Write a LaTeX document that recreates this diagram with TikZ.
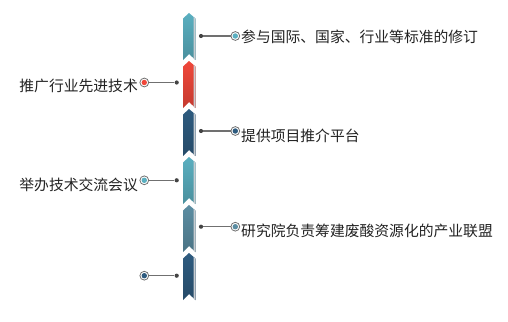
\documentclass[tikz,border=0pt]{standalone}
\usepackage{fontspec}
\setmainfont{Noto Sans CJK SC}
\definecolor{cteal}{HTML}{5AAFC0}
\definecolor{cred}{HTML}{F0473A}
\definecolor{cdark}{HTML}{2E5B7F}
\definecolor{cgblue}{HTML}{5B8DA2}
\definecolor{cline}{HTML}{707070}
\definecolor{cdot}{HTML}{444444}
\definecolor{ctext}{HTML}{222222}
\definecolor{cstripe}{HTML}{C9CDD1}
\tikzset{
  dotnode/.style={circle,fill=cdot,inner sep=0pt,minimum size=4.2pt},
  ringnode/.style={circle,draw=cline,line width=0.8pt,fill=white,inner sep=0pt,minimum size=8.8pt},
  corenode/.style={circle,inner sep=0pt,minimum size=5.4pt},
  conn/.style={draw=cline,line width=1.4pt},
  txt/.style={inner sep=0pt,text=ctext,font=\fontsize{14.8}{16}\selectfont},
}
\newcommand{\seg}[2]{%
  \shade[top color=#2,middle color=#2,bottom color=#2!82!black]
    (183,#1+5.5) -- (189,#1) -- (195.5,#1+5.5) -- (195.5,#1+47) -- (189,#1+41) -- (183,#1+47) -- cycle;
  \fill[cstripe] (193.5,#1+3.8) -- (195.5,#1+5.5) -- (195.5,#1+47) -- (193.5,#1+45.3) -- cycle;
}
\begin{document}
\begin{tikzpicture}[x=1pt,y=-1pt]
\useasboundingbox (0,0) rectangle (508,321);
\seg{13}{cteal}
\seg{61}{cred}
\seg{109}{cdark}
\seg{157}{cteal}
\seg{205}{cgblue}
\seg{253}{cdark}
% item 1 (right)
\node[dotnode] (d1) at (201,36) {};
\node[ringnode] (c1) at (235.3,36) {};
\node[corenode,fill=cteal] (k1) at (c1) {};
\draw[conn] (d1) -- (c1);
\node[txt,anchor=west] (t1) at (241,37) {参与国际、国家、行业等标准的修订};
% item 2 (left)
\node[dotnode] (d2) at (176.7,82.5) {};
\node[ringnode] (c2) at (144.3,82.5) {};
\node[corenode,fill=cred] (k2) at (c2) {};
\draw[conn] (d2) -- (c2);
\node[txt,anchor=east] (t2) at (138,85.5) {推广行业先进技术};
% item 3 (right)
\node[dotnode] (d3) at (201,131) {};
\node[ringnode] (c3) at (235.3,131) {};
\node[corenode,fill=cdark] (k3) at (c3) {};
\draw[conn] (d3) -- (c3);
\node[txt,anchor=west] (t3) at (241,135.5) {提供项目推介平台};
% item 4 (left)
\node[dotnode] (d4) at (176.7,180.3) {};
\node[ringnode] (c4) at (144.3,180.3) {};
\node[corenode,fill=cteal] (k4) at (c4) {};
\draw[conn] (d4) -- (c4);
\node[txt,anchor=east] (t4) at (138,185) {举办技术交流会议};
% item 5 (right)
\node[dotnode] (d5) at (201,226.7) {};
\node[ringnode] (c5) at (235.3,226.7) {};
\node[corenode,fill=cgblue] (k5) at (c5) {};
\draw[conn] (d5) -- (c5);
\node[txt,anchor=west] (t5) at (241,230.5) {研究院负责筹建废酸资源化的产业联盟};
% item 6 (left)
\node[dotnode] (d6) at (176.7,275.7) {};
\node[ringnode] (c6) at (144.3,275.7) {};
\node[corenode,fill=cdark] (k6) at (c6) {};
\draw[conn] (d6) -- (c6);
\end{tikzpicture}
\end{document}
